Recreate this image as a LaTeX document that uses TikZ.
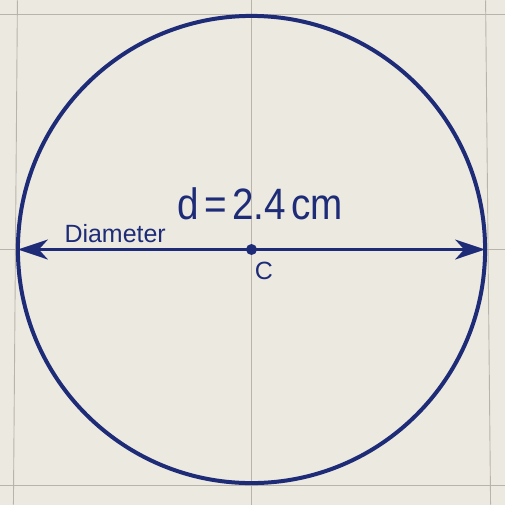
\documentclass[tikz,border=0pt]{standalone}
\usepackage{fontspec}
\setmainfont{Liberation Sans}
\usetikzlibrary{arrows.meta,positioning}
\definecolor{paper}{HTML}{ECE9E1}
\definecolor{ink}{HTML}{1E2C78}
\definecolor{rule}{HTML}{B8B4AC}

\begin{document}
\begin{tikzpicture}[x=1pt,y=-1pt,
	gridline/.style={rule, line width=0.9pt},
	rim/.style={circle, draw=ink, line width=4pt, minimum size=468pt, inner sep=0pt, outer sep=0pt},
	dimline/.style={ink, line width=2.8pt, {Stealth[length=30pt,width=20pt,inset=9pt]}-{Stealth[length=30pt,width=20pt,inset=9pt]}},
	centredot/.style={circle, fill=ink, minimum size=11pt, inner sep=0pt},
	lbl/.style={text=ink, inner sep=0pt}]
	% paper and faint grid
	\fill[paper] (0,0) rectangle (505,505);
	\draw[gridline] (17,0) -- (13,505);
	\draw[gridline] (251,0) -- (251,505);
	\draw[gridline] (486,0) -- (491,505);
	\draw[gridline] (0,14) -- (505,14);
	\draw[gridline] (0,249) -- (505,249);
	\draw[gridline] (0,486) -- (505,486);
	
	\node[rim] (circ) at (251.5,249.5) {};
	\draw[dimline] (circ.west) -- (circ.east);
	\node[centredot] (ctr) at (circ.center) {};
	
	\node[lbl, anchor=base, xscale=0.88] (dval) at (260,219) {\fontsize{44}{50}\selectfont d\hspace{0.14em}=\hspace{0.14em}2.4\hspace{0.14em}cm};
	\node[lbl, anchor=base west] (dname) at (64,242) {\fontsize{25}{30}\selectfont Diameter};
	\node[lbl, anchor=base] (cname) at (264,280) {\fontsize{25}{30}\selectfont C};
\end{tikzpicture}
\end{document}
